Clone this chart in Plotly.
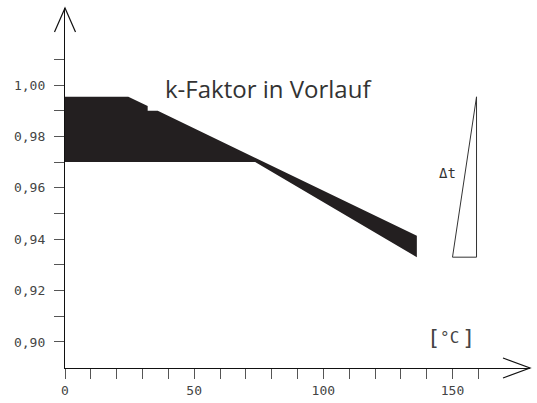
import plotly.graph_objects as go

# ---- data ----
band_top_x = [0, 24.5, 32.0, 32.0, 35.9, 136.2]
band_top_y = [0.9954, 0.9954, 0.9918, 0.9900, 0.9900, 0.9413]
band_bot_x = [136.2, 73.6, 0]
band_bot_y = [0.9330, 0.9700, 0.9700]

tri_x = [150.0, 159.3, 159.3, 150.0]
tri_y = [0.933, 0.933, 0.9954, 0.933]

x_tickvals = list(range(0, 161, 10))
x_ticktext = ["0" if v == 0 else (str(v) if v % 50 == 0 else "") for v in x_tickvals]
y_tickvals = [0.90, 0.91, 0.92, 0.93, 0.94, 0.95, 0.96, 0.97, 0.98, 0.99, 1.00, 1.01]
y_ticktext = ["0,90", "", "0,92", "", "0,94", "", "0,96", "", "0,98", "", "1,00", ""]

X_RANGE = [0, 180]
Y_RANGE = [0.88988, 1.02996]

W, H = 537, 403
ML, MR, MT, MB = 65, 7, 8, 35
PW, PH = W - ML - MR, H - MT - MB

fig = go.Figure()
fig.add_trace(go.Scatter(
    x=band_top_x + band_bot_x, y=band_top_y + band_bot_y,
    fill="toself", fillcolor="#231F20", mode="lines",
    line=dict(width=0, color="#231F20"), hoverinfo="skip", showlegend=False))
fig.add_trace(go.Scatter(
    x=tri_x, y=tri_y, mode="lines",
    line=dict(width=1, color="#333333"), hoverinfo="skip", showlegend=False))

mono = "DejaVu Sans Mono"
fig.add_annotation(x=78.6, y=0.9988, xref="x", yref="y", text="k-Faktor in Vorlauf",
                   showarrow=False, font=dict(family="Open Sans", size=24, color="#333333"),
                   xanchor="center", yanchor="middle")
fig.add_annotation(x=148.0, y=0.9658, xref="x", yref="y", text="Δt",
                   showarrow=False, font=dict(family=mono, size=14, color="#333333"),
                   xanchor="center", yanchor="middle")
fig.add_annotation(x=142.5, y=0.9016, xref="x", yref="y", text="[",
                   showarrow=False, font=dict(family=mono, size=22, color="#444444"),
                   xanchor="center", yanchor="middle")
fig.add_annotation(x=149.0, y=0.9016, xref="x", yref="y", text="°C",
                   showarrow=False, font=dict(family=mono, size=16, color="#444444"),
                   xanchor="center", yanchor="middle")
fig.add_annotation(x=156.0, y=0.9016, xref="x", yref="y", text="]",
                   showarrow=False, font=dict(family=mono, size=22, color="#444444"),
                   xanchor="center", yanchor="middle")

# arrow heads (open V) in paper coordinates derived from pixel sizes
ya_dx, ya_dy = 10.5 / PW, 24 / PH
xa_dx, xa_dy = 27 / PW, 10 / PH
fig.add_shape(type="path", xref="paper", yref="paper",
              path=f"M {-ya_dx} {1 - ya_dy} L 0 1 L {ya_dx} {1 - ya_dy}",
              line=dict(color="#111111", width=1.2))
fig.add_shape(type="path", xref="paper", yref="paper",
              path=f"M {1 - xa_dx} {xa_dy} L 1 0 L {1 - xa_dx} {-xa_dy}",
              line=dict(color="#111111", width=1.2))

fig.update_xaxes(range=X_RANGE, showline=True, linecolor="#111111", linewidth=1.3,
                 ticks="outside", ticklen=10, tickwidth=1.2, tickcolor="#555555",
                 tickvals=x_tickvals, ticktext=x_ticktext, showgrid=False, zeroline=False,
                 tickfont=dict(family=mono, size=13, color="#444444"), ticklabelstandoff=0,
                 automargin=False)
fig.update_yaxes(range=Y_RANGE, showline=True, linecolor="#111111", linewidth=1.3,
                 ticks="outside", ticklen=10, tickwidth=1.2, tickcolor="#555555",
                 tickvals=y_tickvals, ticktext=y_ticktext, showgrid=False, zeroline=False,
                 tickfont=dict(family=mono, size=13, color="#444444"), ticklabelstandoff=6,
                 automargin=False)

fig.update_layout(width=W, height=H, margin=dict(l=ML, r=MR, t=MT, b=MB, autoexpand=False),
                  paper_bgcolor="white", plot_bgcolor="white", showlegend=False)

fig.write_html("out.html", config={"displayModeBar": False},
               post_script="document.body.style.margin='0';")
